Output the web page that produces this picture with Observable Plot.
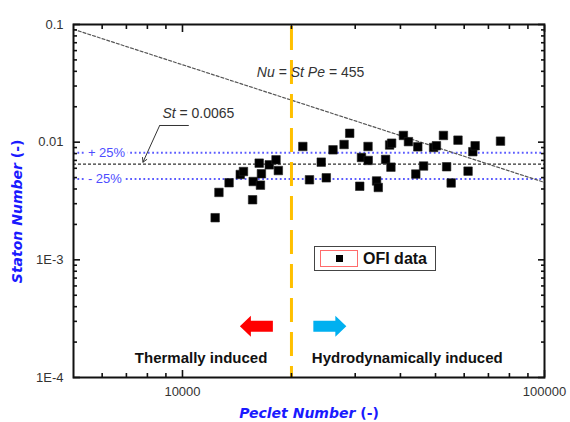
<!DOCTYPE html>
<html><head><meta charset="utf-8">
<script src="https://cdn.jsdelivr.net/npm/d3@7"></script>
<script src="https://cdn.jsdelivr.net/npm/@observablehq/plot@0.6"></script>
<style>
body{margin:0;background:#fff;}
#wrap{position:relative;width:570px;height:422px;}
#legend{position:absolute;left:314px;top:246px;width:120px;height:23px;border:1px solid #444;background:#fff;font-family:"Liberation Sans",Arial,sans-serif;font-weight:bold;font-size:16px;color:#111;}
#legend .sw{position:absolute;left:5px;top:3px;width:36px;height:15px;border:1px solid #ff6b6b;}
#legend .sq{position:absolute;left:15px;top:4px;width:7px;height:7px;background:#000;}
#legend .lb{position:absolute;left:48px;top:3px;line-height:17px;}
</style>
</head><body>
<div id="wrap"><div id="chart"></div>
<div id="legend"><div class="sw"><div class="sq"></div></div><div class="lb">OFI data</div></div>
</div>
<script>
// ---- data (OFI data: Peclet number vs Stanton number) ----
const peclet = [12310, 12610, 13450, 14440, 14740, 15620, 15680, 16290, 16520, 16420, 17370, 18130, 18400,
  21500, 22430, 24170, 24960, 26050, 27950, 28970, 30880, 31220, 32550, 32590, 34370, 34740, 36400, 37340,
  37820, 37650, 40760, 42090, 44110, 44670, 46340, 49390, 50290, 52580, 53660, 55230, 57680, 61500, 63380,
  64330, 75590];
const stanton = [0.00228, 0.00374, 0.00452, 0.00531, 0.00563, 0.00324, 0.00463, 0.00663, 0.00539, 0.00431,
  0.00642, 0.00708, 0.00574, 0.00919, 0.00479, 0.00676, 0.00498, 0.00861, 0.00955, 0.0119, 0.00422, 0.00741,
  0.00919, 0.00699, 0.00468, 0.00412, 0.00713, 0.00946, 0.0098, 0.00613, 0.0114, 0.0101, 0.00536, 0.00913,
  0.00627, 0.00901, 0.00932, 0.0114, 0.00618, 0.0045, 0.0104, 0.00567, 0.0083, 0.00932, 0.0102];

// correlation constants
const stMean = 0.0065;
const bandFactor = [1.25, 0.75];
const nuConst = 455;
const peTransition = 20000;

// axes
const xDomain = [5000, 100000];
const yDomain = [1e-4, 0.1];
const xMajorTicks = [10000, 100000];
const xTickLabels = ["10000", "100000"];
const xMinorTicks = [6000, 7000, 8000, 9000, 20000, 30000, 40000, 50000, 60000, 70000, 80000, 90000];
const yMajorTicks = [1e-4, 1e-3, 1e-2, 1e-1];
const yTickLabels = ["1E-4", "1E-3", "0.01", "0.1"];
const yMinorTicks = [2e-4,3e-4,4e-4,5e-4,6e-4,7e-4,8e-4,9e-4,2e-3,3e-3,4e-3,5e-3,6e-3,7e-3,8e-3,9e-3,2e-2,3e-2,4e-2,5e-2,6e-2,7e-2,8e-2,9e-2];

// annotations (text, anchor position in data units)
const xTitle = {text: "*Peclet Number* (-)"};
const yTitle = {text: "*Staton Number* (-)", x: 5000, y: 0.00258};
const nuLabel = {text: "*Nu* = *St* *Pe* = 455", x: 16050, y: 0.0391};
const stLabel = {text: "*St* = 0.0065", x: 8800, y: 0.01752};
const bandLabels = [{text: "+ 25%", x: 5480, y: 0.008125}, {text: "- 25%", x: 5480, y: 0.004875}];
const leader = {x0: 10411, x1: 8649, y1: 0.01386, x2: 7778, y2: 0.00676};
const regionLabels = [{text: "Thermally induced", x: 11255, y: 0.000145}, {text: "Hydrodynamically induced", x: 41770, y: 0.000145}];
const regionArrows = [{dir: "left", x: 16000, y: 0.000273, color: "#ff0000"}, {dir: "right", x: 25530, y: 0.000273, color: "#00b0f0"}];

const points = peclet.map((pe, i) => ({pe, st: stanton[i]}));
const nuLine = xDomain.map(pe => ({pe, st: nuConst / pe}));

const blockArrow = (dir) => ({
  draw(ctx) {
    const s = dir === "left" ? 1 : -1;
    ctx.moveTo(-16.5 * s, 0);
    ctx.lineTo(-5.5 * s, -10.5);
    ctx.lineTo(-5.5 * s, -5.5);
    ctx.lineTo(16.5 * s, -5.5);
    ctx.lineTo(16.5 * s, 5.5);
    ctx.lineTo(-5.5 * s, 5.5);
    ctx.lineTo(-5.5 * s, 10.5);
    ctx.closePath();
  }
});
// inward ticks: a normal outward axis tick shifted back into the frame by its own length
const tickMarks = (values, side, len) => {
  const opts = {anchor: side, tickSize: len, tickFormat: () => "", label: null, stroke: "#111", strokeWidth: 1.6};
  if (side === "bottom") return Plot.axisX(values, {...opts, dy: -len});
  if (side === "top") return Plot.axisX(values, {...opts, dy: len});
  if (side === "left") return Plot.axisY(values, {...opts, dx: len});
  return Plot.axisY(values, {...opts, dx: -len});
};

const tickFont = "Liberation Sans, Arial, sans-serif";
const titleFont = "DejaVu Sans, Verdana, sans-serif";

const chart = Plot.plot({
  width: 570, height: 422,
  marginLeft: 73, marginRight: 26, marginTop: 24, marginBottom: 45,
  style: {fontFamily: tickFont, background: "#fff"},
  x: {type: "log", domain: xDomain, label: null},
  y: {type: "log", domain: yDomain, label: null},
  marks: [
    // reference lines
    Plot.ruleY(bandFactor.map(f => stMean * f), {stroke: "#5c5cff", strokeWidth: 2, strokeDasharray: "1.8,2.6"}),
    Plot.ruleY([stMean], {stroke: "#333", strokeWidth: 1.2, strokeDasharray: "3,2"}),
    Plot.line(nuLine, {x: "pe", y: "st", stroke: "#555", strokeWidth: 1.2, strokeDasharray: "3,2"}),
    Plot.ruleX([peTransition], {stroke: "#ffc000", strokeWidth: 3, strokeDasharray: "24,10", strokeDashoffset: -2}),
    // data
    Plot.dot(points, {x: "pe", y: "st", symbol: "square", r: 4.8, fill: "#000", stroke: "#222", strokeWidth: 0.6}),
    // annotations
    Plot.text(bandLabels, {x: "x", y: "y", text: "text", textAnchor: "start", fill: "#4d4dff", fontSize: 13, stroke: "white", strokeWidth: 6}),
    Plot.text([nuLabel, stLabel], {x: "x", y: "y", text: "text", textAnchor: "start", fill: "#333", fontSize: 14}),
    Plot.link([leader], {x1: "x0", x2: "x1", y1: "y1", y2: "y1", stroke: "#333", strokeWidth: 1}),
    Plot.arrow([leader], {x1: "x1", y1: "y1", x2: "x2", y2: "y2", stroke: "#333", strokeWidth: 1, headLength: 7}),
    Plot.text(regionLabels, {x: "x", y: "y", text: "text", fill: "#111", fontSize: 15, fontWeight: "bold"}),
    ...regionArrows.map(a => Plot.dot([a], {x: "x", y: "y", symbol: blockArrow(a.dir), r: 10, fill: a.color, stroke: "none"})),
    // frame
    Plot.frame({stroke: "#111", strokeWidth: 2}),
    // ticks (inward, on all four sides)
    tickMarks(xMajorTicks, "bottom", 7), tickMarks(xMinorTicks, "bottom", 4),
    tickMarks(xMajorTicks, "top", 7), tickMarks(xMinorTicks, "top", 4),
    tickMarks(yMajorTicks, "left", 7), tickMarks(yMinorTicks, "left", 4),
    tickMarks(yMajorTicks, "right", 7), tickMarks(yMinorTicks, "right", 4),
    // tick labels
    Plot.axisX(xMajorTicks, {anchor: "bottom", tickSize: 0, tickPadding: 9, tickFormat: d => xTickLabels[xMajorTicks.indexOf(d)], label: null, fontSize: 13, color: "#333"}),
    Plot.axisY(yMajorTicks, {anchor: "left", tickSize: 0, tickPadding: 10, tickFormat: d => yTickLabels[yMajorTicks.indexOf(d)], label: null, fontSize: 13, color: "#333"}),
    // axis titles
    Plot.text([xTitle], {text: "text", frameAnchor: "bottom", textAnchor: "middle", lineAnchor: "middle", dy: 36, fill: "#1a1aff", fontSize: 14, fontWeight: "bold", fontFamily: titleFont}),
    Plot.text([yTitle], {x: "x", y: "y", text: "text", textAnchor: "middle", lineAnchor: "middle", rotate: -90, dx: -56, fill: "#1a1aff", fontSize: 14, fontWeight: "bold", fontFamily: titleFont})
  ]
});

// turn *...* segments into italic tspans
chart.querySelectorAll("text").forEach(t => {
  const s = t.textContent;
  if (!s.includes("*") || t.children.length) return;
  const parts = s.split("*");
  t.textContent = "";
  parts.forEach((p, i) => {
    if (!p) return;
    const ts = document.createElementNS("http://www.w3.org/2000/svg", "tspan");
    if (i % 2 === 1) ts.setAttribute("font-style", "italic");
    ts.textContent = p;
    t.appendChild(ts);
  });
});

document.getElementById("chart").appendChild(chart);
</script>
</body></html>
